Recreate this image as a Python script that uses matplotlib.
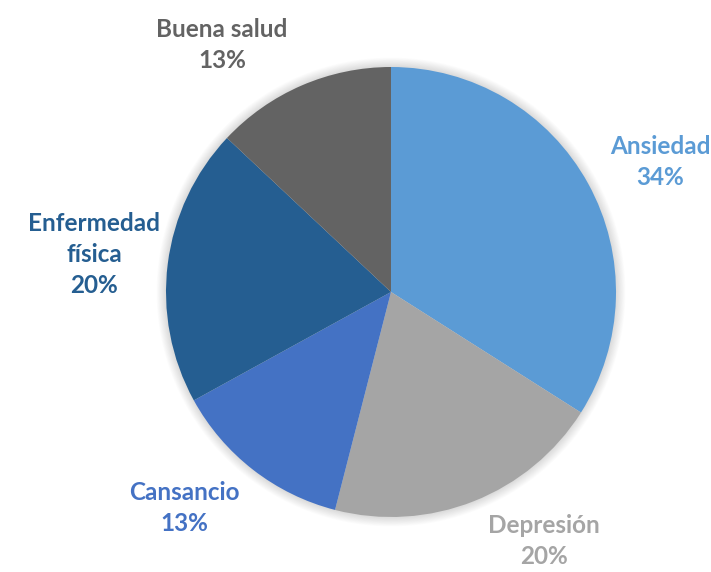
import numpy as np
import matplotlib.pyplot as plt
from matplotlib.patches import Circle

# Motivos reportados (porcentaje)
labels = ['Ansiedad', 'Depresión', 'Cansancio', 'Enfermedad\nfísica', 'Buena salud']
values = [34, 20, 13, 20, 13]
colors = ['#5B9BD5', '#A5A5A5', '#4472C4', '#255E91', '#636363']
# posición de cada etiqueta: giro respecto al centro de su porción (grados) y distancia
label_nudge = [-3, 10, -6, 0, 11]
label_dist = [1.33, 1.30, 1.33, 1.33, 1.33]

fig = plt.figure(figsize=(7.11, 5.72), dpi=100)
ax = fig.add_axes([166 / 711, 55 / 572, 450 / 711, 450 / 572])

# sombra suave alrededor del círculo
for i in range(12):
    r = 1.0 + 0.0035 * (12 - i)
    ax.add_patch(Circle((0, 0), r, color='black', alpha=0.012, lw=0,
                        zorder=0, clip_on=False))

wedges, _ = ax.pie(values, colors=colors, startangle=90, counterclock=False,
                   radius=1.0, wedgeprops=dict(linewidth=0))
for w in wedges:
    w.set_zorder(2)

ax.set_xlim(-1, 1)
ax.set_ylim(-1, 1)
ax.set_aspect('equal')
ax.axis('off')

for w, lab, v, col, nudge, dist in zip(wedges, labels, values, colors,
                                       label_nudge, label_dist):
    mid = np.deg2rad((w.theta1 + w.theta2) / 2 + nudge)
    x, y = dist * np.cos(mid), dist * np.sin(mid)
    ax.text(x, y, f'{lab}\n{v}%', color=col, ha='center', va='center',
            fontsize=17.5, fontweight='bold', family='Lato', linespacing=1.4,
            clip_on=False)

fig.savefig('out.png', dpi=100)
